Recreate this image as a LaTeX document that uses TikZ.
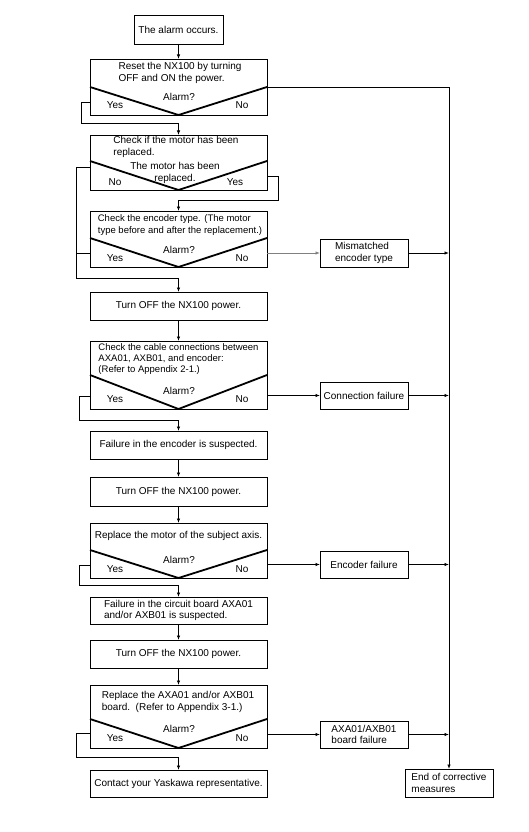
\documentclass[tikz,border=0pt]{standalone}
\usepackage{fontspec}
\setmainfont{Liberation Sans}
\usetikzlibrary{arrows.meta}
\begin{document}
\begin{tikzpicture}[x=1pt,y=-1pt,
  font=\fontsize{10}{11.8}\selectfont,
  box/.style={draw, line width=0.8pt, minimum width=177pt, inner sep=0pt, outer sep=0pt},
  sbox/.style={draw, line width=0.8pt, minimum width=88pt, inner sep=0pt, outer sep=0pt},
  vee/.style={line width=1.8pt},
  conn/.style={line width=0.8pt},
  arr/.style={line width=0.8pt, -{Latex[length=4.5pt,width=3.5pt]}},
  lbl/.style={inner sep=0pt, align=left},
  small/.style={font=\fontsize{9.5}{11.4}\selectfont}
]
\useasboundingbox (0,0) rectangle (529,832);

% main column
\node[box, minimum width=89pt, minimum height=29pt] (a1) at (178.5,29.5) {The alarm occurs.};
\node[box, minimum height=56pt] (d1) at (178.5,87) {};
\node[box, minimum height=55pt] (d2) at (178.5,162.5) {};
\node[box, minimum height=56pt] (d3) at (178.5,239) {};
\node[box, minimum height=28pt] (t1) at (178.5,306) {Turn OFF the NX100 power.};
\node[box, minimum height=68pt] (d4) at (178.5,375) {};
\node[box, minimum height=28pt] (f1) at (178.5,445) {Failure in the encoder is suspected.};
\node[box, minimum height=29pt] (t2) at (178.5,491.5) {Turn OFF the NX100 power.};
\node[box, minimum height=55pt] (d5) at (178.5,550.5) {};
\node[box, minimum height=27pt, align=left] (f2) at (178.5,610.5) {Failure in the circuit board AXA01\\and/or AXB01 is suspected.};
\node[box, minimum height=28pt] (t3) at (178.5,654) {Turn OFF the NX100 power.};
\node[box, minimum height=63pt] (d6) at (178.5,716.5) {};
\node[box, minimum height=27pt] (c1) at (178.5,783.5) {Contact your Yaskawa representative.};

% side column
\node[sbox, minimum height=28pt, align=left] (m1) at (364,253) {Mismatched\\encoder type};
\node[sbox, minimum height=27pt] (m2) at (364,395.5) {Connection failure};
\node[sbox, minimum height=27pt] (m3) at (364,564.5) {Encoder failure};
\node[sbox, minimum height=27pt, align=left] (m4) at (364,734.5) {AXA01/AXB01\\board failure};
\node[sbox, minimum height=28pt, align=left] (end) at (449,783) {End of corrective\\measures};

% decision texts and vees
\node[lbl] at (180,73) {Reset the NX100 by turning\\OFF and ON the power.};
\draw[vee] (d1.west |- 0,87) -- (d1.south) -- (d1.east |- 0,87);
\node[lbl] at (179,97) {Alarm?};
\node[lbl] at (115,105) {Yes};
\node[lbl] at (242,105) {No};

\node[lbl] at (176,147) {Check if the motor has been\\replaced.};
\draw[vee] (d2.west |- 0,161) -- (d2.south) -- (d2.east |- 0,161);
\node[lbl, align=center] at (175,173) {The motor has been\\replaced.};
\node[lbl] at (115,182) {No};
\node[lbl] at (235,182) {Yes};

\node[lbl, small] at (180,225) {Check the encoder type. (The motor\\type before and after the replacement.)};
\draw[vee] (d3.west |- 0,238) -- (d3.south) -- (d3.east |- 0,238);
\node[lbl] at (179,250) {Alarm?};
\node[lbl] at (115,258) {Yes};
\node[lbl] at (242,258) {No};

\node[lbl, small] at (178.5,359) {Check the cable connections between\\AXA01, AXB01, and encoder:\\(Refer to Appendix 2-1.)};
\draw[vee] (d4.west |- 0,375) -- (d4.south) -- (d4.east |- 0,375);
\node[lbl] at (179,391) {Alarm?};
\node[lbl] at (115,399) {Yes};
\node[lbl] at (242,399) {No};

\node[lbl] at (178.5,536) {Replace the motor of the subject axis.};
\draw[vee] (d5.west |- 0,550) -- (d5.south) -- (d5.east |- 0,550);
\node[lbl] at (179,560) {Alarm?};
\node[lbl] at (115,569) {Yes};
\node[lbl] at (242,569) {No};

\node[lbl] at (178,702) {Replace the AXA01 and/or AXB01\\board.\ \ (Refer to Appendix 3-1.)};
\draw[vee] (d6.west |- 0,719) -- (d6.south) -- (d6.east |- 0,719);
\node[lbl] at (179,729) {Alarm?};
\node[lbl] at (115,738) {Yes};
\node[lbl] at (242,738) {No};

% connectors
\draw[arr] (a1) -- (d1);
\draw[arr] (d1.west |- 0,102) -- (81,102) |- ([yshift=12pt]d2.north) -- (d2.north);
\draw[arr] (d2.west |- 0,167) -- (76,167) |- ([yshift=14pt]t1.north) -- (t1.north);
\draw[conn] (d3.west |- 0,253) -- (76,253);
\draw[arr] (d2.east |- 0,176) -- (278,176) |- ([yshift=11pt]d3.north) -- (d3.north);
\draw[arr, gray] (d3.east |- m1.west) -- (m1.west);
\draw[arr] (t1) -- (d4);
\draw[arr] (d4.west |- 0,396) -- (79,396) |- ([yshift=11pt]f1.north) -- (f1.north);
\draw[arr] (d4.east |- m2.west) -- (m2.west);
\draw[arr] (f1) -- (t2);
\draw[arr] (t2) -- (d5);
\draw[arr] (d5.west |- 0,565) -- (79,565) |- ([yshift=12pt]f2.north) -- (f2.north);
\draw[arr] (d5.east |- m3.west) -- (m3.west);
\draw[arr] (f2) -- (t3);
\draw[arr] (t3) -- (d6);
\draw[arr] (d6.west |- 0,733) -- (76,733) |- ([yshift=13pt]c1.north) -- (c1.north);
\draw[arr] (d6.east |- m4.west) -- (m4.west);

% rail to end
\draw[arr] (d1.east) -- (d1.east -| end.north) -- (end.north);
\draw[arr] (m1.east) -- (m1.east -| end.north);
\draw[arr] (m2.east) -- (m2.east -| end.north);
\draw[arr] (m3.east) -- (m3.east -| end.north);
\draw[arr] (m4.east) -- (m4.east -| end.north);
\end{tikzpicture}
\end{document}
